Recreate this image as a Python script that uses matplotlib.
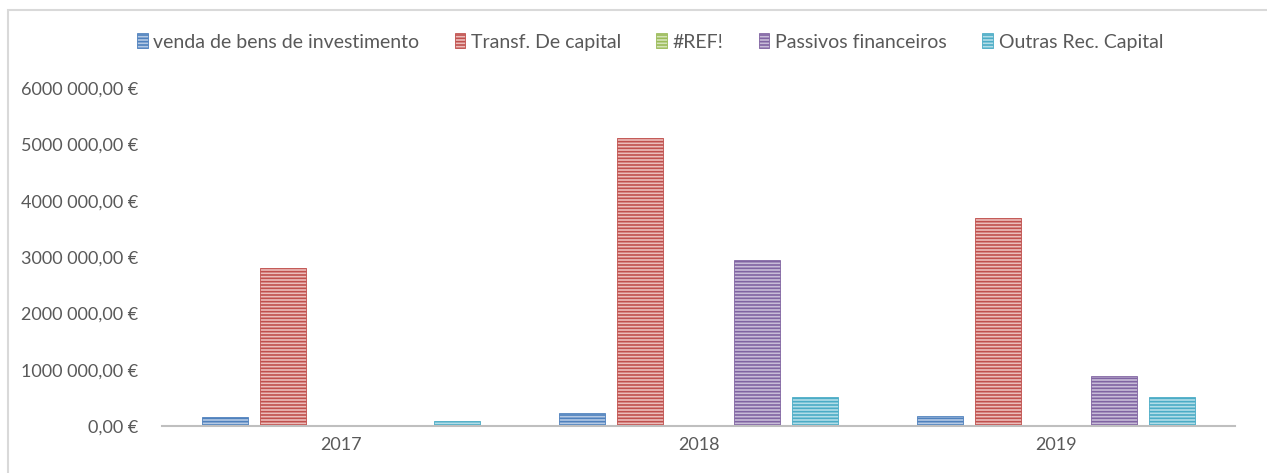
import matplotlib
matplotlib.use("Agg")
import matplotlib.pyplot as plt
import numpy as np
from matplotlib.patches import Rectangle
from matplotlib.ticker import FuncFormatter

plt.rcParams['font.family'] = ['Lato', 'DejaVu Sans']
plt.rcParams['hatch.linewidth'] = 1.2

YEARS = ["2017", "2018", "2019"]
SERIES = ["venda de bens de investimento", "Transf. De capital", "#REF!",
          "Passivos financeiros", "Outras Rec. Capital"]
COLORS = ["#4F81BD", "#C0504D", "#9BBB59", "#8064A2", "#4BACC6"]
LIGHT = ["#B4C9E4", "#ECBDBB", "#D4E4B8", "#C8BCD8", "#B2DDE8"]

VENDA = [160000, 236000, 180000]
TRANSF = [2800000, 5110000, 3690000]
REF = [0, 0, 0]
PASSIVOS = [0, 2940000, 890000]
OUTRAS = [90000, 510000, 510000]
VALUES = [VENDA, TRANSF, REF, PASSIVOS, OUTRAS]


def euro(v, pos):
    # Excel style: "6000 000,00 €"
    s = f"{v:.2f}".replace(".", ",")
    whole, dec = s.split(",")
    if len(whole) > 6:
        whole = whole[:-3] + " " + whole[-3:]
    return f"{whole},{dec} €"


fig = plt.figure(figsize=(12.67, 4.73), dpi=100)
ax = fig.add_axes([162 / 1267, (473 - 426) / 473, (1235 - 162) / 1267, (426 - 88) / 473])

x = np.arange(len(YEARS))
step, width = 0.1625, 0.129
for i, (name, vals) in enumerate(zip(SERIES, VALUES)):
    ax.bar(x + (i - 2) * step, vals, width, facecolor=LIGHT[i], edgecolor=COLORS[i],
           hatch="-----", linewidth=0.6, label=name)

ax.set_xlim(-0.5, 2.5)
ax.set_ylim(0, 6000000)
ax.set_yticks(np.arange(0, 6000001, 1000000))
ax.yaxis.set_major_formatter(FuncFormatter(euro))
ax.set_xticks(x)
ax.set_xticklabels(YEARS)
for s in ["top", "right", "left"]:
    ax.spines[s].set_visible(False)
ax.spines["bottom"].set_color("#BFBFBF")
ax.spines["bottom"].set_linewidth(1.5)
ax.tick_params(axis="y", length=0, labelsize=13, labelcolor="#595959", pad=17)
ax.tick_params(axis="x", length=0, labelsize=13, labelcolor="#595959", pad=8)

leg = fig.legend(loc="center", bbox_to_anchor=(650 / 1267, (473 - 42) / 473), ncol=5,
                 frameon=False, fontsize=14, handlelength=0.55, handleheight=0.8,
                 handletextpad=0.3, columnspacing=1.8, labelcolor="#595959")

# chart area frame (only top/left visible in the crop)
fig.patches.append(Rectangle((8 / 1267, -0.1), 1.2, (473 - 10) / 473 + 0.1,
                             transform=fig.transFigure, fill=False,
                             edgecolor="#D9D9D9", linewidth=1.5))

fig.savefig("out.png", dpi=100)
